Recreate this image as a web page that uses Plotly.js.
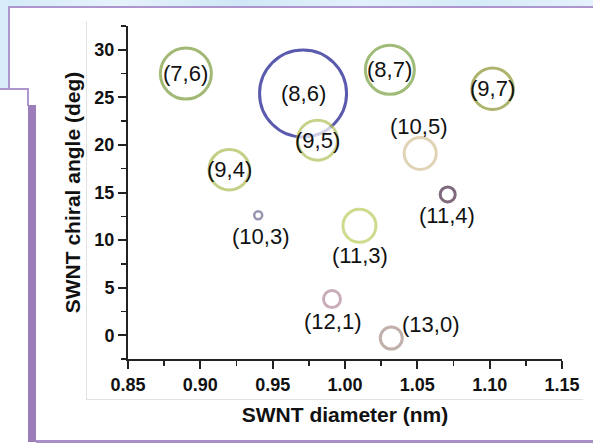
<!DOCTYPE html>
<html>
<head>
<meta charset="utf-8">
<script src="https://cdn.plot.ly/plotly-3.0.1.min.js"></script>
<style>
  html, body { margin: 0; padding: 0; background: #ffffff; }
  #wrap { position: relative; width: 593px; height: 443px; overflow: hidden; background: #ffffff; }
  .deco { position: absolute; }
  #chart { position: absolute; left: 0; top: 0; width: 593px; height: 443px; }
</style>
</head>
<body>
<div id="wrap">
  <!-- slide decoration -->
  <div class="deco" style="left:0;top:0;width:593px;height:7px;background:linear-gradient(100deg,#d3eaf8 0%,#e6f3fb 20%,#cfe7f6 40%,#e2f1fb 60%,#d5ebf8 80%,#e4f2fb 100%);"></div>
  <div class="deco" style="left:0;top:0;width:8px;height:88px;background:#d8ecf9;"></div>
  <div class="deco" style="left:8px;top:6px;width:585px;height:2px;background:#ad95cd;"></div>
  <div class="deco" style="left:8px;top:6px;width:2px;height:83px;background:#ad95cd;"></div>
  <div class="deco" style="left:0;top:88px;width:29px;height:2px;background:#ad95cd;"></div>
  <div class="deco" style="left:27px;top:88px;width:2px;height:18px;background:#ad95cd;"></div>
  <div class="deco" style="left:28px;top:105px;width:8px;height:337px;background:#9b7db9;"></div>
  <div class="deco" style="left:36px;top:440px;width:557px;height:3px;background:#a88fc8;"></div>
  <div class="deco" style="left:86px;top:21px;width:1px;height:378px;background:#e2e2e2;"></div>
  <div class="deco" style="left:86px;top:399px;width:497px;height:1px;background:#e2e2e2;"></div>
  <div id="chart"></div>
</div>
<script>
// ---- data ----
const chirality = ['(7,6)', '(8,6)', '(9,5)', '(8,7)', '(9,7)', '(9,4)', '(10,5)', '(11,4)', '(10,3)', '(11,3)', '(12,1)', '(13,0)'];
const diameterNm = [0.890, 0.971, 0.981, 1.031, 1.102, 0.920, 1.052, 1.071, 0.940, 1.010, 0.991, 1.032];
const chiralAngleDeg = [27.5, 25.4, 20.5, 27.9, 25.9, 17.4, 19.1, 14.8, 12.6, 11.5, 3.8, -0.3];
const relativeAbundance = [51, 87, 40, 49, 41.5, 40.5, 32, 15, 8, 33, 17, 22];
const xTickVals = [0.85, 0.90, 0.95, 1.00, 1.05, 1.10, 1.15];
const xTickText = ['0.85', '0.90', '0.95', '1.00', '1.05', '1.10', '1.15'];
const yTickVals = [0, 5, 10, 15, 20, 25, 30];
const yTickText = ['0', '5', '10', '15', '20', '25', '30'];

// ---- styling ----
const ringColor = {
  '(7,6)': '#7b9c3b', '(8,6)': '#15158c', '(9,5)': '#b3c05a', '(8,7)': '#78a03f',
  '(9,7)': '#8c9530', '(9,4)': '#adbb52', '(10,5)': '#d4c398', '(11,4)': '#4b2a47',
  '(10,3)': '#6c6a92', '(11,3)': '#bccb5e', '(12,1)': '#b58b9e', '(13,0)': '#a89088'
};
const ringWidth = { '(10,3)': 2.5 };
const labelShift = {
  '(10,5)': [-2, 27], '(10,3)': [2, -21], '(11,3)': [1, -30],
  '(11,4)': [-1, -21], '(12,1)': [1, -22], '(13,0)': [39, 14]
};
const FONT = '"Liberation Sans", Arial, Helvetica, sans-serif';

const trace = {
  type: 'scatter',
  mode: 'markers',
  x: diameterNm,
  y: chiralAngleDeg,
  hoverinfo: 'skip',
  marker: {
    symbol: 'circle',
    size: relativeAbundance,
    color: '#ffffff',
    line: {
      color: chirality.map(c => ringColor[c]),
      width: chirality.map(c => ringWidth[c] || 3)
    }
  },
  cliponaxis: false,
  showlegend: false
};

const annotations = chirality.map((c, i) => {
  const s = labelShift[c] || [0, 0];
  return {
    xref: 'x', yref: 'y', x: diameterNm[i], y: chiralAngleDeg[i],
    text: c, showarrow: false, xshift: s[0], yshift: s[1],
    font: { family: FONT, size: 22, color: '#111111' }
  };
});

const axisCommon = {
  showline: true, linecolor: '#222222', linewidth: 2,
  ticks: 'outside', ticklen: 8, tickwidth: 2, tickcolor: '#222222',
  showgrid: false, zeroline: false, mirror: false,
  tickfont: { family: FONT, size: 18, color: '#111111', weight: 'bold' }
};

const layout = {
  width: 593, height: 443,
  margin: { l: 128, r: 31, t: 26, b: 84 },
  paper_bgcolor: 'rgba(0,0,0,0)',
  plot_bgcolor: 'rgba(0,0,0,0)',
  font: { family: FONT },
  xaxis: Object.assign({}, axisCommon, {
    range: [0.85, 1.15],
    tickvals: xTickVals, ticktext: xTickText,
    minor: { dtick: 0.025, tick0: 0.85, ticks: 'outside', ticklen: 5, tickwidth: 1.5, tickcolor: '#222222' },
    title: { text: 'SWNT diameter (nm)', font: { family: FONT, size: 21, color: '#111111', weight: 'bold' }, standoff: 14 }
  }),
  yaxis: Object.assign({}, axisCommon, {
    range: [-2.5, 32.5],
    tickvals: yTickVals, ticktext: yTickText,
    minor: { dtick: 2.5, tick0: 0, ticks: 'outside', ticklen: 5, tickwidth: 1.5, tickcolor: '#222222' },
    title: { text: 'SWNT chiral angle (deg)', font: { family: FONT, size: 21, color: '#111111', weight: 'bold' }, standoff: 8 }
  }),
  annotations: annotations
};

Plotly.newPlot('chart', [trace], layout, { staticPlot: true, displayModeBar: false });
</script>
</body>
</html>
